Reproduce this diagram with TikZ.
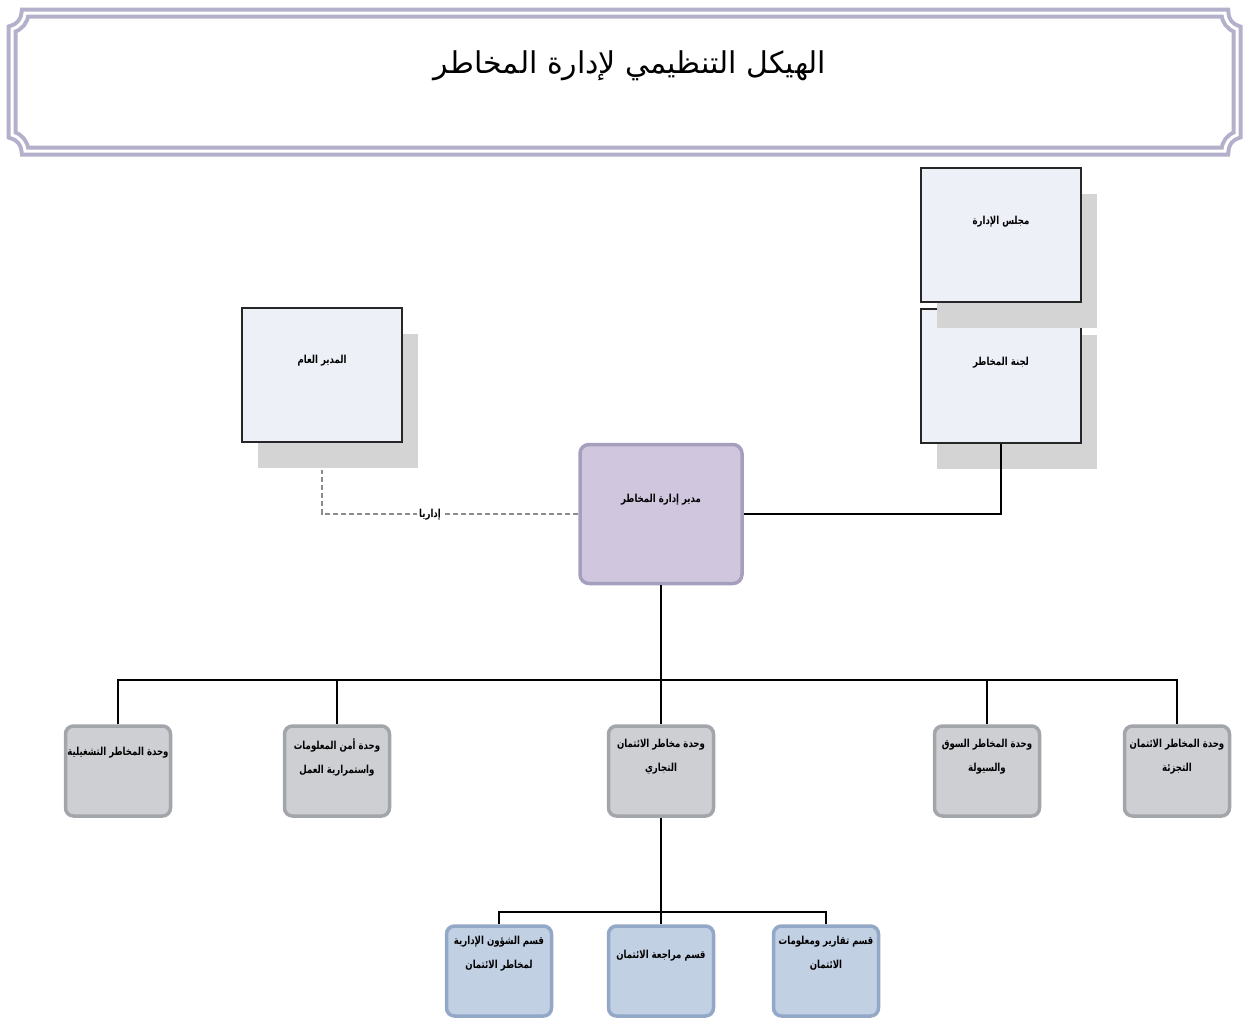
\documentclass[tikz,border=0pt]{standalone}
\usepackage{fontspec}
\newfontfamily\arabicfont[Script=Arabic]{DejaVu Sans}
\newfontfamily\arabicnarrow[Script=Arabic,FakeStretch=0.78]{DejaVu Sans}
\TeXXeTstate=1
\usetikzlibrary{shadows}

\definecolor{bannerline}{HTML}{B2B0CA}
\definecolor{paperfill}{HTML}{EEF0F8}
\definecolor{mgrfill}{HTML}{D0C7DF}
\definecolor{mgrline}{HTML}{A69EBD}
\definecolor{unitfill}{HTML}{CDCFD3}
\definecolor{unitline}{HTML}{A2A5AA}
\definecolor{secfill}{HTML}{C2D0E4}
\definecolor{secline}{HTML}{93A8C6}

\newcommand{\ar}[1]{{\arabicnarrow\beginR #1\endR}}

\tikzset{
  paperbox/.style={draw=black!85, line width=2.5pt, fill=paperfill, inner sep=0pt,
    minimum width=160pt, minimum height=134pt,
    drop shadow={shadow xshift=16pt, shadow yshift=-26pt, fill=black!17, opacity=1}},
  mgrbox/.style={draw=mgrline, line width=3.5pt, fill=mgrfill, rounded corners=9pt,
    inner sep=0pt, minimum width=162pt, minimum height=139pt},
  unitbox/.style={draw=unitline, line width=3.5pt, fill=unitfill, rounded corners=8pt,
    inner sep=0pt, minimum width=105pt, minimum height=90pt},
  secbox/.style={draw=secline, line width=3.5pt, fill=secfill, rounded corners=8pt,
    inner sep=0pt, minimum width=105pt, minimum height=90pt},
  boxtext/.style={font=\fontsize{11}{24}\selectfont\bfseries, align=center, inner sep=1pt},
  link/.style={draw=black, line width=1.4pt},
  adminlink/.style={draw=black!45, line width=1.3pt, dash pattern=on 5pt off 3pt}
}

\begin{document}
\begin{tikzpicture}[x=1pt,y=-1pt]

  \useasboundingbox (0,0) rectangle (1243,1021);

  % Draw title banner
  \draw [bannerline, line width=4pt, double=white, double distance=3pt]
    (25,13) -- (1225,13) to[bend right=35] (1237,29) -- (1237,135)
    to[bend right=35] (1225,151) -- (25,151) to[bend right=35] (12,135)
    -- (12,29) to[bend right=35] cycle;
  \node (title) at (630,66) {\fontsize{30}{36}\selectfont\arabicfont\beginR الهيكل التنظيمي لإدارة المخاطر\endR};

  % Draw board and committee
  \node [paperbox] (committee) at (1001,376) {};
  \node [paperbox] (board) at (1001,235) {};
  \node [boxtext] (boardT) at ([yshift=13pt]board.center) {\ar{مجلس الإدارة}};
  \node [boxtext] (committeeT) at ([yshift=13pt]committee.center) {\ar{لجنة المخاطر}};

  % Draw general manager
  \node [paperbox] (gm) at (322,375) {};
  \node [boxtext] (gmT) at ([yshift=14pt]gm.center) {\ar{المدير العام}};

  % Draw risk manager
  \node [mgrbox] (mgr) at (661,514) {};
  \node [boxtext] (mgrT) at ([yshift=14pt]mgr.center) {\ar{مدير إدارة المخاطر}};

  % Draw units
  \node [unitbox] (unitOps) at (118,771) {};
  \node [unitbox] (unitSec) at (337,771) {};
  \node [unitbox] (unitCom) at (661,771) {};
  \node [unitbox] (unitMkt) at (987,771) {};
  \node [unitbox] (unitRet) at (1177,771) {};
  \node [boxtext] (unitOpsT) at ([yshift=18pt]unitOps.center) {\ar{وحدة المخاطر التشغيلية}};
  \node [boxtext] (unitSecT) at ([yshift=14pt]unitSec.center) {\ar{وحدة أمن المعلومات}\\\ar{واستمرارية العمل}};
  \node [boxtext] (unitComT) at ([yshift=14pt]unitCom.center) {\ar{وحدة مخاطر الائتمان}\\\ar{التجاري}};
  \node [boxtext] (unitMktT) at ([yshift=14pt]unitMkt.center) {\ar{وحدة المخاطر السوق}\\\ar{والسيولة}};
  \node [boxtext] (unitRetT) at ([yshift=14pt]unitRet.center) {\ar{وحدة المخاطر الائتمان}\\\ar{التجزئة}};

  % Draw sections
  \node [secbox] (secAdm) at (499,971) {};
  \node [secbox] (secRev) at (661,971) {};
  \node [secbox] (secRep) at (826,971) {};
  \node [boxtext] (secAdmT) at ([yshift=17pt]secAdm.center) {\ar{قسم الشؤون الإدارية}\\\ar{لمخاطر الائتمان}};
  \node [boxtext] (secRevT) at ([yshift=15pt]secRev.center) {\ar{قسم مراجعة الائتمان}};
  \node [boxtext] (secRepT) at ([yshift=18pt]secRep.center) {\ar{قسم تقارير ومعلومات}\\\ar{الائتمان}};

  % Draw links
  \coordinate (gmfoot) at (322,470);
  \draw [adminlink] (mgr.west) -| (gmfoot);
  \node [boxtext, fill=white, inner sep=2pt] (adminT) at (430,515) {\ar{إداريا}};
  \draw [link] (mgr.east) -| (committee.south);

  \coordinate (bus) at (661,680);
  \draw [link] (mgr.south) -- (bus);
  \foreach \u in {unitOps,unitSec,unitCom,unitMkt,unitRet}
    \draw [link] (\u.north) |- (bus);

  \coordinate (subbus) at (661,912);
  \draw [link] (unitCom.south) -- (subbus);
  \foreach \s in {secAdm,secRev,secRep}
    \draw [link] (\s.north) |- (subbus);

\end{tikzpicture}
\end{document}
